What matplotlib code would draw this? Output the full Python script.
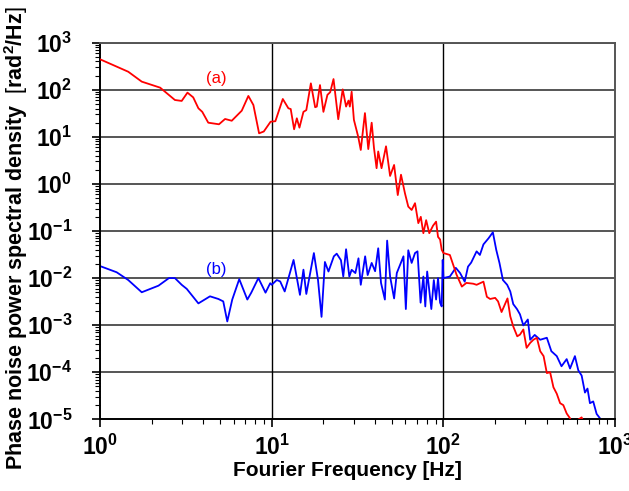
import matplotlib
matplotlib.use("Agg")
import matplotlib.pyplot as plt
from matplotlib.ticker import FixedLocator, LogLocator, NullFormatter

plt.rcParams["font.family"] = ["Liberation Sans", "DejaVu Sans"]
plt.rcParams["mathtext.fontset"] = "custom"
plt.rcParams["mathtext.rm"] = "Liberation Sans"
plt.rcParams["mathtext.bf"] = "Liberation Sans:bold"

# curve (a), red
freq_a = [1.0, 1.46, 1.75, 2.24, 2.73, 2.99, 3.23, 3.49, 3.74, 3.94, 4.27, 4.93,
          5.35, 5.85, 6.69, 7.31, 7.82, 8.44, 8.99, 9.85, 10.5, 11.6, 12.5, 12.9,
          13.5, 14.0, 14.5, 15.3, 15.9, 16.9, 17.9, 18.3, 19.1, 20.0, 21.1, 21.9,
          22.9, 24.4, 25.9, 27.1, 28.0, 28.5, 29.2, 30.1, 31.9, 33.0, 34.9, 36.5,
          38.2, 39.4, 40.8, 41.7, 43.6, 46.3, 48.9, 51.6, 54.2, 56.6, 59.7, 62.4,
          65.3, 68.3, 71.4, 73.8, 76.4, 79.3, 82.7, 87.0, 90.6, 93.0, 95.6, 97.7,
          100, 109, 119, 128, 136, 149, 156, 171, 179, 187, 200, 208, 218, 236,
          245, 255, 269, 279, 292, 305, 320, 334, 350, 366, 383, 400, 418, 437,
          457, 478, 499, 522, 546, 560, 638, 660]
psd_a = [445, 242, 149, 111, 60.7, 58, 87, 69, 40.5, 34, 20, 18.5,
         24, 22, 36, 74, 47.5, 11.9, 13, 21, 21.5, 63.8, 40.5, 39,
         14.5, 24.8, 15.7, 34, 37, 137, 42.6, 44, 126, 34, 78, 89,
         169, 23.7, 102, 44, 59, 44, 91, 23, 10, 5.27, 32, 5.5,
         20, 5.8, 2.16, 4.9, 2.16, 6.3, 1.48, 2.53, 0.58, 1.57, 0.63, 0.33,
         0.28, 0.39, 0.147, 0.2, 0.09, 0.17, 0.09, 0.13, 0.158, 0.075, 0.066, 0.04,
         0.034, 0.031, 0.012, 0.0066, 0.0079, 0.0076, 0.0072, 0.0084, 0.0040, 0.0036, 0.0038, 0.0032, 0.0019, 0.0037,
         0.00154, 0.00094, 0.00058, 0.00063, 0.00081, 0.00033, 0.00042, 0.00049, 0.00054, 0.00028, 0.00022, 9.6e-5, 1.0e-4, 4.8e-5,
         3.5e-5, 2.2e-5, 2.0e-5, 1.33e-5, 1.05e-5, 8e-6, 1.1e-5, 8e-6]

# curve (b), blue
freq_b = [1.0, 1.25, 1.46, 1.75, 2.19, 2.52, 2.73, 2.99, 3.2, 3.74, 4.37, 4.89,
          5.22, 5.51, 5.89, 6.47, 7.21, 7.6, 8.36, 8.74, 9.2, 9.8, 10.0, 10.7,
          11.2, 11.9, 13.4, 14.6, 15.3, 15.9, 17.6, 18.6, 19.5, 20.4, 21.4, 23.0,
          23.9, 25.3, 26.1, 27.1, 28.3, 29.2, 30.7, 32.0, 33.0, 35.0, 36.2, 38.2,
          40.0, 41.7, 43.3, 45.6, 47.0, 48.9, 51.6, 53.5, 58.5, 60.4, 62.4, 65.3,
          68.3, 70.6, 73.6, 76.4, 78.4, 80.4, 85.0, 87.9, 90.6, 93.0, 95.6, 97.7,
          99.0, 100, 109, 118, 125, 133, 139, 145, 156, 163, 171, 183,
          194, 203, 212, 222, 235, 245, 255, 268, 279, 292, 310, 320,
          340, 366, 400, 425, 457, 487, 522, 546, 583, 610, 638, 667,
          690, 713, 745, 780, 816, 830]
psd_b = [0.018, 0.0133, 0.0091, 0.005, 0.0069, 0.01, 0.01, 0.0072, 0.0059, 0.0029, 0.0041, 0.0036,
         0.0032, 0.0012, 0.0035, 0.0095, 0.0035, 0.0049, 0.01, 0.0072, 0.0049, 0.0078, 0.0072, 0.0091,
         0.0085, 0.0052, 0.0243, 0.0044, 0.0151, 0.0046, 0.034, 0.0091, 0.0015, 0.022, 0.0138, 0.029,
         0.033, 0.024, 0.0108, 0.041, 0.0108, 0.015, 0.0128, 0.0263, 0.0072, 0.029, 0.0116, 0.021,
         0.014, 0.043, 0.0079, 0.0035, 0.0625, 0.0108, 0.0037, 0.0128, 0.029, 0.0022, 0.039, 0.021,
         0.034, 0.037, 0.0030, 0.0108, 0.0025, 0.0138, 0.0022, 0.0091, 0.0035, 0.01, 0.003, 0.0025,
         0.0243, 0.01, 0.0108, 0.0165, 0.0128, 0.0084, 0.0175, 0.0213, 0.037, 0.031, 0.052, 0.07,
         0.094, 0.0398, 0.0209, 0.0091, 0.0072, 0.0052, 0.0028, 0.0022, 0.0017, 0.00099, 0.00132, 0.00049,
         0.00062, 0.00049, 0.00054, 0.00028, 0.00022, 0.000134, 0.00019, 0.00012, 0.00022, 0.00011, 0.000085, 3.7e-5,
         4.5e-5, 2.2e-5, 2.4e-5, 1.3e-5, 1.05e-5, 8e-6]

x_ticks = [1, 10, 100, 1000]
y_ticks = [1e-5, 1e-4, 1e-3, 1e-2, 1e-1, 1e0, 1e1, 1e2, 1e3]
x_labels = [r"$\mathbf{10^{%d}}$" % e for e in range(0, 4)]
y_labels = [r"$\mathbf{10^{%d}}$" % e for e in range(-5, 4)]

fig = plt.figure(figsize=(6.29, 4.91), dpi=100)
ax = fig.add_axes([0.159, 0.146, 0.819, 0.767])

# horizontal grid at each decade, vertical only at 10 and 100
for y in y_ticks[1:]:
    ax.axhline(y, color="#555555", lw=1.4, zorder=1)
for x in [10, 100]:
    ax.axvline(x, color="black", lw=1.0, zorder=1)

ax.plot(freq_a, psd_a, color="red", lw=1.3, zorder=3)
ax.plot(freq_b, psd_b, color="blue", lw=1.3, zorder=2)

ax.set_xscale("log")
ax.set_yscale("log")
ax.set_xlim(1, 1000)
ax.set_ylim(1e-5, 1e3)

ax.xaxis.set_major_locator(FixedLocator(x_ticks))
ax.yaxis.set_major_locator(FixedLocator(y_ticks))
ax.set_xticklabels(x_labels, fontsize=16.5)
ax.set_yticklabels(y_labels, fontsize=16.5)
ax.xaxis.set_minor_locator(LogLocator(base=10, subs=range(2, 10), numticks=20))
ax.yaxis.set_minor_locator(LogLocator(base=10, subs=range(2, 10), numticks=20))
ax.xaxis.set_minor_formatter(NullFormatter())
ax.yaxis.set_minor_formatter(NullFormatter())
ax.tick_params(which="major", direction="out", length=6, width=1.2)
ax.tick_params(which="minor", direction="out", length=3.5, width=0.8)
ax.tick_params(axis="x", pad=5)
ax.tick_params(axis="y", pad=14)

for side in ["top", "right"]:
    ax.spines[side].set_color("#555555")
    ax.spines[side].set_linewidth(1.4)
for side in ["left", "bottom"]:
    ax.spines[side].set_linewidth(1.4)

ax.text(4.74, 178, "(a)", color="red", fontsize=12, ha="center", va="center")
ax.text(4.74, 0.0149, "(b)", color="blue", fontsize=12, ha="center", va="center")

fig.text(347 / 629, 1 - 470 / 491, "Fourier Frequency [Hz]", fontsize=15,
         fontweight="bold", ha="center", va="center")
fig.text(16 / 629, 1 - 238 / 491,
         r"Phase noise power spectral density  $\mathrm{[}$rad$^{\mathbf{2}}$/Hz$\mathrm{]}$",
         fontsize=15.5, fontweight="bold", rotation=90, ha="center", va="center")

fig.savefig("out.png", dpi=100)
